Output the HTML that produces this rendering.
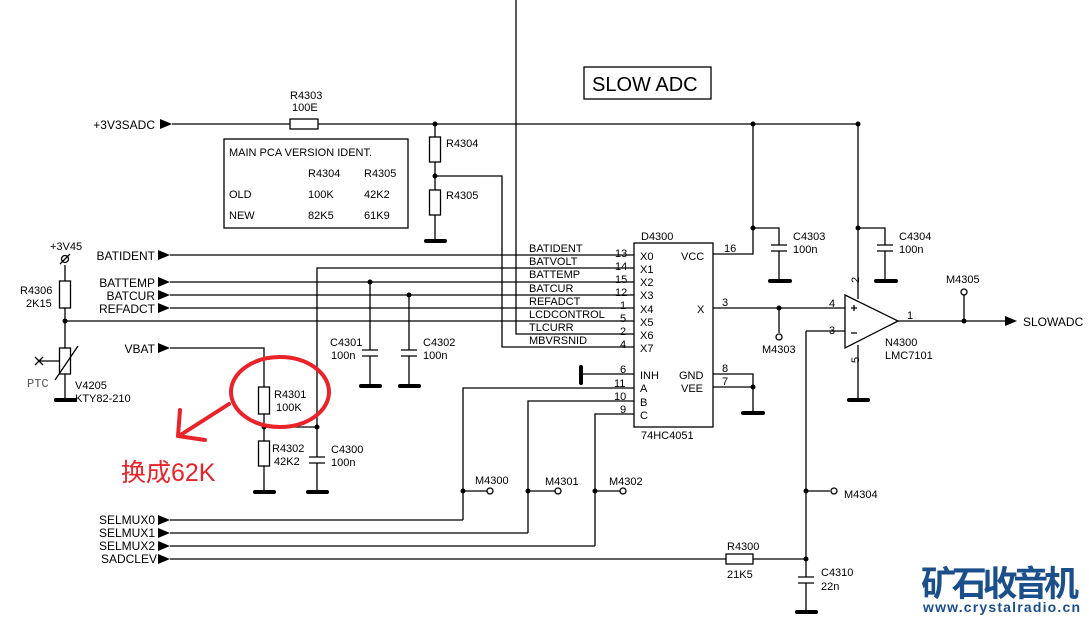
<!DOCTYPE html>
<html><head><meta charset="utf-8"><style>
body{margin:0;background:#fff}
svg{display:block}
text{font-family:"Liberation Sans","Noto Sans CJK SC",sans-serif;fill:#000}
</style></head><body>
<svg width="1089" height="621" viewBox="0 0 1089 621" xmlns="http://www.w3.org/2000/svg">
<defs>
<marker id="a" markerWidth="12" markerHeight="10" refX="0" refY="5" orient="auto" markerUnits="userSpaceOnUse"><path d="M0,0 L12,5 L0,10z" fill="#000"/></marker>
</defs>
<g stroke="#000" stroke-width="1.3" fill="none">
<path d="M172,124 H290 M318,124 H858"/>
<rect x="290" y="119" width="28" height="10" fill="#fff"/>
<path d="M516,0 V334 H634"/>
<path d="M435,124 V137 M435,162 V190 M435,215 V241"/>
<rect x="429.5" y="137" width="11" height="25"/>
<rect x="429.5" y="190" width="11" height="25"/>
<path d="M435,176 H502 V347 H634"/>
<rect x="224" y="139" width="184" height="89"/>
<rect x="584" y="67" width="127" height="32"/>
<path d="M170,255 H634 M170,282 H634 M170,295 H634 M170,308 H634 M65,321 H634"/>
<path d="M317,427 V268 H634"/>
<path d="M170,348 H264 V387 M264,414 V441 M264,466 V492 M264,427 H317 V457 M317,463 V492"/>
<rect x="258.5" y="387" width="11" height="27"/>
<rect x="258.5" y="441" width="11" height="25"/>
<path d="M309,457 H325 M309,463 H325"/>
<path d="M370,282 V350 M370,356 V386 M362,350 H378 M362,356 H378"/>
<path d="M409,295 V350 M409,356 V386 M401,350 H417 M401,356 H417"/>
<path d="M65,265 V281 M65,308 V348 M65,374 V400"/>
<rect x="59.5" y="281" width="11" height="27"/>
<rect x="59.5" y="348" width="11" height="26"/>
<path d="M55,380 L78,346 M40,361 H60 M35,357 L43,365 M35,365 L43,357"/>
<circle cx="65" cy="259" r="3.5"/><path d="M60,264 L70,254"/>
<rect x="634" y="243" width="79" height="184"/>
<path d="M580,374 H634 M463,520 V388 H634 M528,533 V401 H634 M595,546 V414 H634"/>
<path d="M713,254 H753 V124 M753,228 H779 V245 M779,251 V281 M771,245 H787 M771,251 H787"/>
<path d="M713,374 H753 V413 M713,387 H753"/>
<path d="M713,308 H845 M779,308 V333 M806,331 H845 M806,331 V577 M806,491 H830 M806,583 V612"/>
<path d="M798,577 H814 M798,583 H814"/>
<path d="M858,124 V299 M858,228 H885 V245 M885,251 V281 M877,245 H893 M877,251 H893 M858,345 V400"/>
<path d="M845,295 L898,321 L845,348 Z" fill="#fff"/>
<path d="M898,321 H1005" marker-end="url(#a)"/>
<path d="M964,321 V295"/>
<path d="M463,491 H487 M528,491 H555 M595,491 H620"/>
<path d="M170,520 H463 M170,533 H528 M170,546 H595 M170,559 H726 M753,559 H806"/>
<rect x="726" y="554" width="27" height="10" fill="#fff"/>
<circle cx="779" cy="337" r="3" fill="#fff"/><circle cx="964" cy="292" r="3" fill="#fff"/>
<circle cx="834" cy="491" r="3" fill="#fff"/><circle cx="490" cy="491" r="3" fill="#fff"/>
<circle cx="558" cy="491" r="3" fill="#fff"/><circle cx="623" cy="491" r="3" fill="#fff"/>
<path d="M851,308 H857 M854,305 V311 M851,333 H857"/>
</g>
<g fill="#000">
<path d="M160,119 L172,124 L160,129z M158,250 L170,255 L158,260z M158,277 L170,282 L158,287z M158,290 L170,295 L158,300z M158,303 L170,308 L158,313z M158,343 L170,348 L158,353z M158,515 L170,520 L158,525z M158,528 L170,533 L158,538z M158,541 L170,546 L158,551z M158,554 L170,559 L158,564z"/>
<circle cx="435" cy="124" r="2.5"/><circle cx="435" cy="176" r="2.5"/><circle cx="753" cy="124" r="2.5"/><circle cx="858" cy="124" r="2.5"/>
<circle cx="753" cy="228" r="2.5"/><circle cx="858" cy="228" r="2.5"/><circle cx="779" cy="308" r="2.5"/><circle cx="964" cy="321" r="2.5"/>
<circle cx="753" cy="387" r="2.5"/><circle cx="806" cy="491" r="2.5"/><circle cx="806" cy="559" r="2.5"/>
<circle cx="65" cy="321" r="2.5"/><circle cx="370" cy="282" r="2.5"/><circle cx="409" cy="295" r="2.5"/>
<circle cx="264" cy="427" r="2.5"/><circle cx="317" cy="427" r="2.5"/>
<circle cx="463" cy="491" r="2.5"/><circle cx="528" cy="491" r="2.5"/><circle cx="595" cy="491" r="2.5"/>
<rect x="424" y="239" width="23" height="4" rx="2"/><rect x="54" y="398" width="23" height="4" rx="2"/>
<rect x="253" y="490" width="23" height="4" rx="2"/><rect x="306" y="490" width="23" height="4" rx="2"/>
<rect x="359" y="384" width="23" height="4" rx="2"/><rect x="398" y="384" width="23" height="4" rx="2"/>
<rect x="579" y="365" width="4" height="20" rx="2"/><rect x="741" y="411" width="24" height="4" rx="2"/>
<rect x="768" y="279" width="24" height="4" rx="2"/><rect x="874" y="279" width="24" height="4" rx="2"/>
<rect x="847" y="398" width="23" height="4" rx="2"/><rect x="795" y="610" width="23" height="4" rx="2"/>
</g>
<g font-size="12">
<text x="155" y="129" text-anchor="end">+3V3SADC</text>
<text x="290" y="99" font-size="11">R4303</text><text x="292" y="111" font-size="11">100E</text>
<text x="446" y="147" font-size="11">R4304</text><text x="446" y="199" font-size="11">R4305</text>
<text x="229" y="156" font-size="11">MAIN PCA VERSION IDENT.</text>
<text x="308" y="177" font-size="11">R4304</text><text x="364" y="177" font-size="11">R4305</text>
<text x="229" y="198" font-size="11">OLD</text><text x="308" y="198" font-size="11">100K</text><text x="364" y="198" font-size="11">42K2</text>
<text x="229" y="219" font-size="11">NEW</text><text x="308" y="219" font-size="11">82K5</text><text x="364" y="219" font-size="11">61K9</text>
<text x="592" y="91" font-size="20">SLOW ADC</text>
<text x="50" y="250" font-size="11">+3V45</text>
<text x="20" y="294" font-size="11">R4306</text><text x="26" y="307" font-size="11">2K15</text>
<text x="155" y="260" text-anchor="end">BATIDENT</text>
<text x="155" y="287" text-anchor="end">BATTEMP</text>
<text x="155" y="300" text-anchor="end">BATCUR</text>
<text x="155" y="313" text-anchor="end">REFADCT</text>
<text x="155" y="353" text-anchor="end">VBAT</text>
<text x="75" y="389" font-size="11">V4205</text>
<text x="75" y="402" font-size="11">KTY82-210</text>
<text x="27" y="387" font-size="12" style="font-family:'Liberation Mono',monospace;fill:#555">PTC</text>
<text x="274" y="398" font-size="11">R4301</text><text x="276" y="411" font-size="11">100K</text>
<text x="272" y="452" font-size="11">R4302</text><text x="274" y="465" font-size="11">42K2</text>
<text x="331" y="453" font-size="11">C4300</text><text x="331" y="466" font-size="11">100n</text>
<text x="330" y="346" font-size="11">C4301</text><text x="331" y="359" font-size="11">100n</text>
<text x="423" y="346" font-size="11">C4302</text><text x="423" y="359" font-size="11">100n</text>
<g font-size="11">
<text x="529" y="252">BATIDENT</text><text x="529" y="265">BATVOLT</text><text x="529" y="278">BATTEMP</text>
<text x="529" y="292">BATCUR</text><text x="529" y="305">REFADCT</text><text x="529" y="318">LCDCONTROL</text>
<text x="529" y="331">TLCURR</text><text x="529" y="344">MBVRSNID</text>
<text x="615" y="257">13</text><text x="615" y="270">14</text><text x="615" y="283">15</text><text x="615" y="296">12</text>
<text x="620" y="309">1</text><text x="620" y="322">5</text><text x="620" y="335">2</text><text x="620" y="348">4</text>
<text x="620" y="373">6</text><text x="614" y="387">11</text><text x="614" y="400">10</text><text x="620" y="413">9</text>
<text x="640" y="260">X0</text><text x="640" y="273">X1</text><text x="640" y="286">X2</text><text x="640" y="299">X3</text>
<text x="640" y="313">X4</text><text x="640" y="326">X5</text><text x="640" y="339">X6</text><text x="640" y="352">X7</text>
<text x="640" y="379">INH</text><text x="640" y="392">A</text><text x="640" y="406">B</text><text x="640" y="419">C</text>
<text x="681" y="260">VCC</text><text x="697" y="313">X</text><text x="679" y="379">GND</text><text x="681" y="392">VEE</text>
<text x="641" y="240">D4300</text><text x="641" y="439">74HC4051</text>
<text x="724" y="252">16</text><text x="722" y="306">3</text><text x="722" y="372">8</text><text x="722" y="385">7</text>
<text x="793" y="240">C4303</text><text x="793" y="253">100n</text>
<text x="899" y="240">C4304</text><text x="899" y="253">100n</text>
<text x="946" y="283">M4305</text><text x="762" y="353">M4303</text>
<text x="829" y="307">4</text><text x="829" y="334">3</text><text x="907" y="319">1</text>
<text x="885" y="346">N4300</text><text x="885" y="359">LMC7101</text>
<text x="475" y="484">M4300</text><text x="545" y="485">M4301</text><text x="609" y="485">M4302</text>
<text x="844" y="498">M4304</text>
<text x="727" y="550">R4300</text><text x="727" y="578">21K5</text>
<text x="821" y="576">C4310</text><text x="821" y="590">22n</text>
</g>
<text x="862" y="294" font-size="11" transform="rotate(-90 855 290)">2</text>
<text x="862" y="374" font-size="11" transform="rotate(-90 855 370)">5</text>
<text x="1023" y="326">SLOWADC</text>
<text x="155" y="524" text-anchor="end">SELMUX0</text>
<text x="155" y="537" text-anchor="end">SELMUX1</text>
<text x="155" y="550" text-anchor="end">SELMUX2</text>
<text x="157" y="563" text-anchor="end">SADCLEV</text>
</g>
<ellipse cx="280" cy="392" rx="49" ry="35" fill="none" stroke="#e8232a" stroke-width="4"/>
<path d="M229,404 L182,434 M180,410 L178,436 L205,440" fill="none" stroke="#e8232a" stroke-width="4" stroke-linecap="round" stroke-linejoin="round"/>
<text x="121" y="481" font-size="25" style="fill:#e8232a">换成62K</text>
<text x="921" y="596" font-size="35" font-weight="bold" style="fill:#1a4f8c" textLength="158">矿石收音机</text>
<text x="923" y="612" font-size="14" font-weight="bold" style="fill:#1a4f8c" textLength="157">www.crystalradio.cn</text>
</svg>
</body></html>
